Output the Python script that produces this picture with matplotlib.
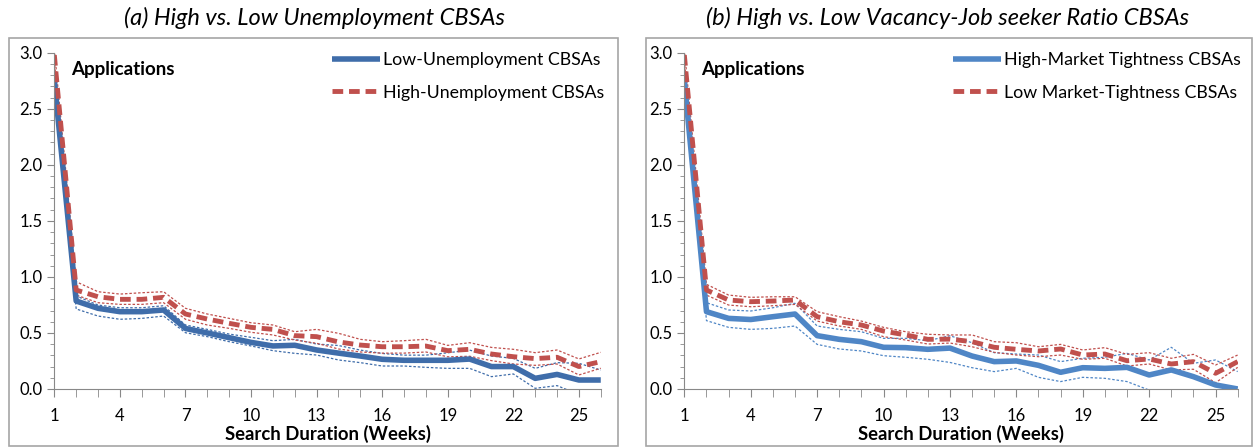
import numpy as np
import matplotlib.pyplot as plt
from matplotlib.patches import Rectangle
from matplotlib.ticker import MultipleLocator

plt.rcParams['font.family'] = ['Lato', 'DejaVu Sans']

weeks = np.arange(1, 27)

# panel (a)
low_unemp = [2.75, 0.785, 0.72, 0.69, 0.69, 0.705, 0.54, 0.50, 0.458, 0.416, 0.384, 0.39, 0.348,
             0.32, 0.294, 0.265, 0.256, 0.256, 0.256, 0.267, 0.20, 0.20, 0.095, 0.13, 0.08, 0.08]
low_unemp_hi = [2.82, 0.83, 0.749, 0.725, 0.725, 0.743, 0.571, 0.532, 0.49, 0.461, 0.431, 0.443, 0.401,
                0.388, 0.347, 0.317, 0.302, 0.302, 0.323, 0.347, 0.294, 0.273, 0.184, 0.235, 0.229, 0.169]
low_unemp_lo = [2.68, 0.714, 0.651, 0.622, 0.63, 0.651, 0.502, 0.467, 0.422, 0.384, 0.342, 0.318, 0.303,
                0.259, 0.235, 0.205, 0.205, 0.193, 0.184, 0.184, 0.110, 0.134, 0.006, 0.03, -0.05, -0.06]
high_unemp = [2.98, 0.883, 0.823, 0.80, 0.80, 0.818, 0.669, 0.624, 0.586, 0.55, 0.532, 0.476, 0.467,
              0.42, 0.392, 0.377, 0.377, 0.383, 0.342, 0.354, 0.312, 0.288, 0.271, 0.283, 0.20, 0.244]
high_unemp_hi = [3.03, 0.957, 0.868, 0.847, 0.859, 0.868, 0.72, 0.669, 0.63, 0.591, 0.571, 0.511, 0.532,
                 0.497, 0.443, 0.422, 0.431, 0.443, 0.389, 0.413, 0.371, 0.354, 0.324, 0.348, 0.268, 0.327]
high_unemp_lo = [2.93, 0.838, 0.77, 0.755, 0.755, 0.77, 0.622, 0.571, 0.541, 0.506, 0.482, 0.437, 0.408,
                 0.357, 0.33, 0.32, 0.32, 0.33, 0.287, 0.292, 0.253, 0.223, 0.211, 0.223, 0.125, 0.185]

# panel (b)
high_tight = [2.75, 0.69, 0.63, 0.62, 0.645, 0.669, 0.476, 0.443, 0.422, 0.372, 0.369, 0.354, 0.365,
              0.294, 0.244, 0.25, 0.211, 0.149, 0.19, 0.184, 0.193, 0.125, 0.17, 0.11, 0.036, 0.0]
high_tight_hi = [2.82, 0.77, 0.705, 0.696, 0.725, 0.765, 0.562, 0.532, 0.511, 0.452, 0.452, 0.431, 0.475,
                 0.413, 0.324, 0.312, 0.303, 0.244, 0.274, 0.283, 0.318, 0.259, 0.372, 0.229, 0.259, 0.155]
high_tight_lo = [2.68, 0.61, 0.55, 0.532, 0.541, 0.562, 0.398, 0.357, 0.339, 0.297, 0.283, 0.265, 0.237,
                 0.19, 0.155, 0.184, 0.104, 0.066, 0.104, 0.095, 0.066, -0.01, -0.01, -0.01, -0.1, -0.15]
low_tight = [2.98, 0.883, 0.794, 0.779, 0.785, 0.794, 0.645, 0.60, 0.571, 0.517, 0.482, 0.443, 0.445,
             0.422, 0.372, 0.354, 0.339, 0.357, 0.303, 0.312, 0.252, 0.268, 0.223, 0.244, 0.14, 0.244]
low_tight_hi = [3.03, 0.934, 0.838, 0.818, 0.823, 0.823, 0.69, 0.645, 0.606, 0.55, 0.511, 0.488, 0.482,
                0.482, 0.422, 0.413, 0.377, 0.398, 0.348, 0.369, 0.309, 0.324, 0.274, 0.309, 0.214, 0.303]
low_tight_lo = [2.93, 0.838, 0.749, 0.734, 0.743, 0.755, 0.606, 0.562, 0.532, 0.467, 0.437, 0.401, 0.41,
                0.377, 0.327, 0.303, 0.288, 0.303, 0.265, 0.274, 0.205, 0.223, 0.17, 0.176, 0.056, 0.193]

titles = ['(a) High vs. Low Unemployment CBSAs', '(b) High vs. Low Vacancy-Job seeker Ratio CBSAs']
labels = [['Low-Unemployment CBSAs', 'High-Unemployment CBSAs'],
          ['High-Market Tightness CBSAs', 'Low Market-Tightness CBSAs']]
blues = ['#3F6DAA', '#4F86C6']
red = '#C0504D'

fig = plt.figure(figsize=(12.55, 4.47), dpi=100)

axes_pos = [[0.0433, 0.1298, 0.4354, 0.752], [0.5453, 0.1298, 0.4409, 0.752]]
boxes = [[9 / 1255, 1 - 446 / 447, 609 / 1255, 408 / 447], [646 / 1255, 1 - 446 / 447, 606 / 1255, 408 / 447]]
title_x = [315 / 1255, 948 / 1255]

data = [(low_unemp, low_unemp_hi, low_unemp_lo, high_unemp, high_unemp_hi, high_unemp_lo),
        (high_tight, high_tight_hi, high_tight_lo, low_tight, low_tight_hi, low_tight_lo)]

for i in range(2):
    fig.patches.append(Rectangle((boxes[i][0], boxes[i][1]), boxes[i][2], boxes[i][3],
                                 transform=fig.transFigure, fill=False, edgecolor='#A6A6A6', lw=1.2))
    fig.text(title_x[i], 1 - 18 / 447, titles[i], ha='center', va='center', fontsize=17, style='italic')
    ax = fig.add_axes(axes_pos[i])
    b, bh, bl, r, rh, rl = data[i]
    ax.plot(weeks, bh, color=blues[i], lw=0.9, ls=(0, (2, 1.5)))
    ax.plot(weeks, bl, color=blues[i], lw=0.9, ls=(0, (2, 1.5)))
    ax.plot(weeks, rh, color=red, lw=0.9, ls=(0, (2, 1.5)))
    ax.plot(weeks, rl, color=red, lw=0.9, ls=(0, (2, 1.5)))
    ax.plot(weeks, b, color=blues[i], lw=4, solid_capstyle='butt', label=labels[i][0])
    ax.plot(weeks, r, color=red, lw=3.5, ls=(0, (2.2, 1.2)), label=labels[i][1])
    ax.set_xlim(1, 26)
    ax.set_ylim(0, 3)
    ax.set_xticks(weeks, minor=True)
    ax.set_xticks(np.arange(1, 27, 3))
    ax.yaxis.set_major_locator(MultipleLocator(0.5))
    ax.yaxis.set_minor_locator(MultipleLocator(0.1))
    ax.yaxis.set_major_formatter(plt.FormatStrFormatter('%.1f'))
    for s in ['top', 'right']:
        ax.spines[s].set_visible(False)
    for s in ['left', 'bottom']:
        ax.spines[s].set_color('#888888')
    ax.tick_params(axis='both', which='both', color='#888888', labelsize=12)
    ax.tick_params(axis='x', which='both', length=6, pad=8)
    ax.tick_params(axis='y', which='major', length=5)
    ax.tick_params(axis='y', which='minor', length=3)
    ax.set_xlabel('Search Duration (Weeks)', fontsize=13.3, fontweight='bold', labelpad=0)
    ax.text(0.03, 0.975, 'Applications', transform=ax.transAxes, fontsize=13.5,
            fontweight='bold', va='top', ha='left')
    ax.legend(loc='upper right', frameon=False, fontsize=12.8, handlelength=2.7,
              handletextpad=0.15, labelspacing=0.95, borderaxespad=0.2,
              bbox_to_anchor=(1.025, 1.035))

fig.savefig('out.png', dpi=100)
